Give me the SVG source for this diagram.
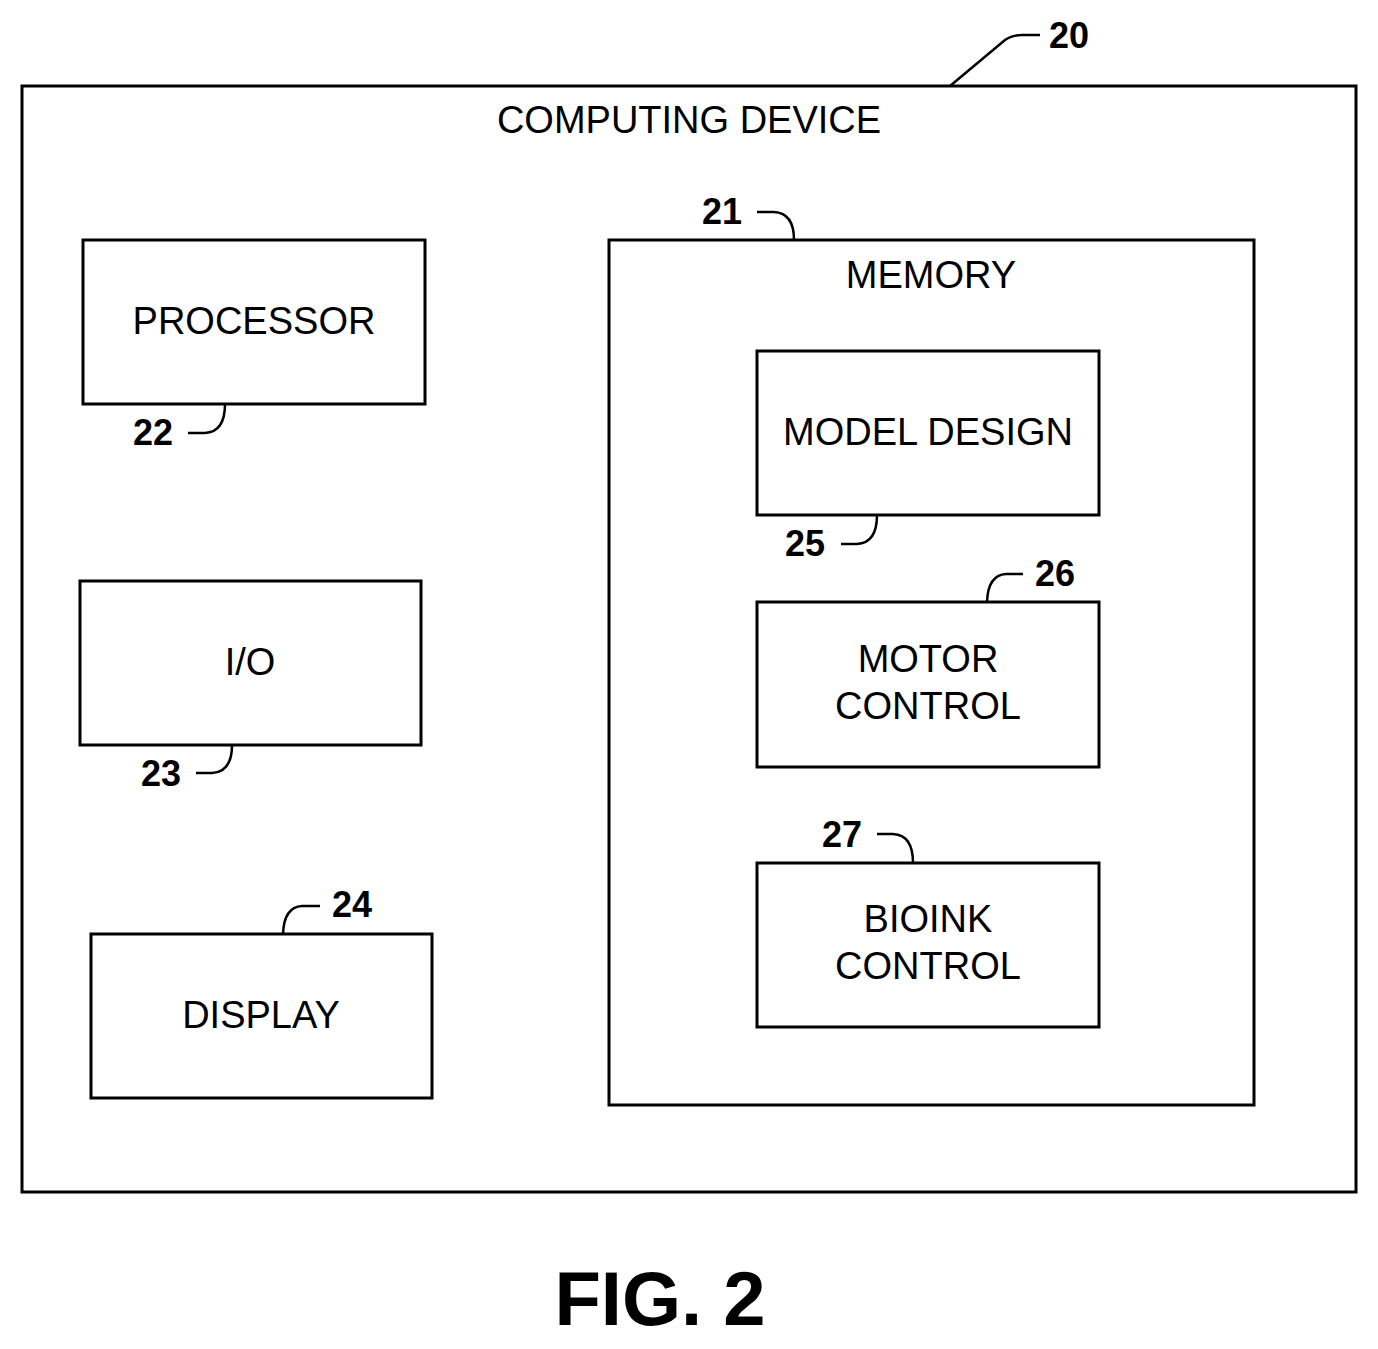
<svg xmlns="http://www.w3.org/2000/svg" width="1378" height="1349" viewBox="0 0 1378 1349">
<style>
.b{fill:none;stroke:#000;stroke-width:3}
.l{fill:none;stroke:#000;stroke-width:2.5}
.t{font-family:"Liberation Sans",Arial,sans-serif;font-size:38px;text-anchor:middle;fill:#000}
.n{font-family:"Liberation Sans",Arial,sans-serif;font-size:36px;font-weight:bold;fill:#000}
</style>
<rect width="1378" height="1349" fill="#fff"/>
<g id="device"><rect class="b" x="22" y="86" width="1334" height="1106"/><text class="t" x="689" y="133">COMPUTING DEVICE</text><text class="n" x="1049" y="48">20</text></g>
<g id="processor"><rect class="b" x="83" y="240" width="342" height="164"/><text class="t" x="254" y="334">PROCESSOR</text><text class="n" x="133" y="445">22</text></g>
<g id="io"><rect class="b" x="80" y="581" width="341" height="164"/><text class="t" x="250" y="675">I/O</text><text class="n" x="141" y="786">23</text></g>
<g id="display"><rect class="b" x="91" y="934" width="341" height="164"/><text class="t" x="261" y="1028">DISPLAY</text><text class="n" x="332" y="917">24</text></g>
<g id="memory"><rect class="b" x="609" y="240" width="645" height="865"/><text class="t" x="931" y="288">MEMORY</text><text class="n" x="702" y="224">21</text></g>
<g id="model"><rect class="b" x="757" y="351" width="342" height="164"/><text class="t" x="928" y="445">MODEL DESIGN</text><text class="n" x="785" y="556">25</text></g>
<g id="motor"><rect class="b" x="757" y="602" width="342" height="165"/><text class="t" x="928" y="672">MOTOR</text><text class="t" x="928" y="719">CONTROL</text><text class="n" x="1035" y="586">26</text></g>
<g id="bioink"><rect class="b" x="757" y="863" width="342" height="164"/><text class="t" x="928" y="932">BIOINK</text><text class="t" x="928" y="979">CONTROL</text><text class="n" x="822" y="847">27</text></g>
<g id="connectors">
<path class="l" d="M950,86 L1005,40 Q1012,35 1022,35 L1040,35"/>
<path class="l" d="M188,433 L205,433 Q225,432 225,404"/>
<path class="l" d="M196,773 L212,773 Q232,772 232,745"/>
<path class="l" d="M283,934 Q284,907 302,906 L320,906"/>
<path class="l" d="M841,544 L857,544 Q877,543 877,515"/>
<path class="l" d="M987,602 Q988,575 1006,574 L1023,574"/>
<path class="l" d="M877,834 L893,834 Q913,835 913,863"/>
<path class="l" d="M757,212 L774,212 Q794,213 794,240"/>
</g>
<text x="660" y="1325" style="font-family:'Liberation Sans',Arial,sans-serif;font-size:76px;font-weight:bold;text-anchor:middle">FIG. 2</text>
</svg>
